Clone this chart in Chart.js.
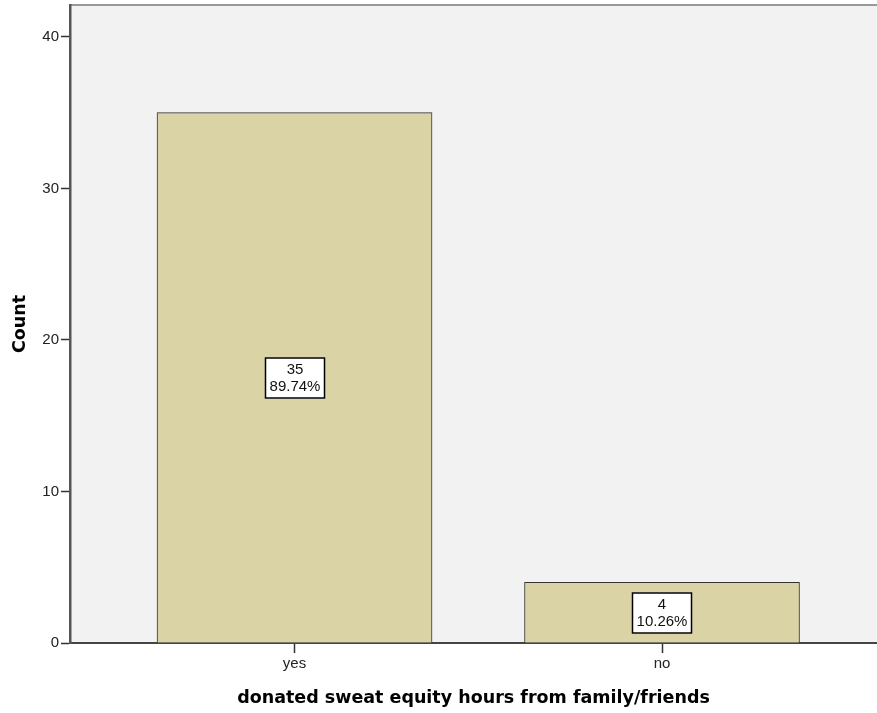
<!DOCTYPE html>
<html>
<head>
<meta charset="utf-8">
<script src="https://cdn.jsdelivr.net/npm/chart.js@4"></script>
<style>
  html, body { margin: 0; padding: 0; background: #fff; }
  #wrap { width: 877px; height: 713px; }
</style>
</head>
<body>
<div id="wrap"><canvas id="chart" width="877" height="713"></canvas></div>
<script>
const categories = ['yes', 'no'];
const counts = [35, 4];
const percents = ['89.74%', '10.26%'];
const yTicks = [0, 10, 20, 30, 40];

// plot background + top border
const plotBackground = {
  id: 'plotBackground',
  beforeDraw(chart) {
    const { ctx, chartArea: a } = chart;
    ctx.save();
    ctx.fillStyle = '#f2f2f2';
    ctx.fillRect(a.left, a.top, a.right - a.left, a.bottom - a.top);
    ctx.strokeStyle = '#999999';
    ctx.lineWidth = 2;
    ctx.beginPath();
    ctx.moveTo(a.left, a.top);
    ctx.lineTo(a.right, a.top);
    ctx.stroke();
    ctx.restore();
  }
};

// value / percent boxes in the middle of each bar
const barLabels = {
  id: 'barLabels',
  afterDatasetsDraw(chart) {
    const { ctx, scales } = chart;
    ctx.save();
    ctx.font = '15px "Liberation Sans", Arial, sans-serif';
    ctx.textAlign = 'center';
    ctx.textBaseline = 'middle';
    counts.forEach((v, i) => {
      const cx = Math.round(scales.x.getPixelForValue(i));
      const cy = Math.round(scales.y.getPixelForValue(v / 2));
      const w = 60, h = 41;
      ctx.fillStyle = '#ffffff';
      ctx.fillRect(cx - w / 2, cy - h / 2, w, h);
      ctx.strokeStyle = '#000000';
      ctx.lineWidth = 1.5;
      ctx.strokeRect(cx - w / 2 + 0.5, cy - h / 2 + 0.5, w - 1, h - 1);
      ctx.fillStyle = '#111111';
      ctx.fillText(String(v), cx, cy - 8);
      ctx.fillText(percents[i], cx, cy + 9);
    });
    ctx.restore();
  }
};

new Chart(document.getElementById('chart'), {
  type: 'bar',
  data: {
    datasets: [{
      data: counts.map((v, i) => ({ x: i, y: v })),
      backgroundColor: '#d9d3a5',
      borderColor: '#333333',
      borderWidth: 1,
      barThickness: 275
    }]
  },
  options: {
    responsive: false,
    animation: false,
    layout: { padding: { top: 5, right: 0, left: 0, bottom: 0 } },
    plugins: { legend: { display: false }, tooltip: { enabled: false } },
    scales: {
      x: {
        type: 'linear',
        offset: false,
        min: -0.611,
        max: 1.585,
        afterBuildTicks(scale) { scale.ticks = [{ value: 0 }, { value: 1 }]; },
        afterFit(scale) { scale.height = 70; scale.paddingLeft = 0; scale.paddingRight = 0; },
        ticks: {
          callback: (v) => categories[v],
          color: '#222',
          font: { family: '"Liberation Sans", Arial, sans-serif', size: 15 },
          padding: 2,
          maxRotation: 0,
          autoSkip: false
        },
        grid: { offset: false, drawOnChartArea: false, tickLength: 10, tickColor: '#333', tickWidth: 1.5 },
        border: { color: '#444', width: 2 },
        title: {
          display: true,
          text: 'donated sweat equity hours from family/friends',
          color: '#000',
          font: { family: '"DejaVu Sans", Verdana, sans-serif', size: 17.5, weight: 'bold' },
          padding: { top: 8 }
        }
      },
      y: {
        min: 0,
        max: 42.1,
        afterBuildTicks(scale) { scale.ticks = yTicks.map(v => ({ value: v })); },
        afterFit(scale) { scale.width = 70; scale.paddingTop = 0; scale.paddingBottom = 0; },
        ticks: {
          color: '#222',
          font: { family: '"Liberation Sans", Arial, sans-serif', size: 15 },
          padding: 2
        },
        grid: { drawOnChartArea: false, tickLength: 9, tickColor: '#333', tickWidth: 1.5 },
        border: { color: '#555', width: 2.5 },
        title: {
          display: true,
          text: 'Count',
          color: '#000',
          font: { family: '"DejaVu Sans", Verdana, sans-serif', size: 17.5, weight: 'bold' },
          padding: { top: 10, bottom: 0 }
        }
      }
    }
  },
  plugins: [plotBackground, barLabels]
});
</script>
</body>
</html>
